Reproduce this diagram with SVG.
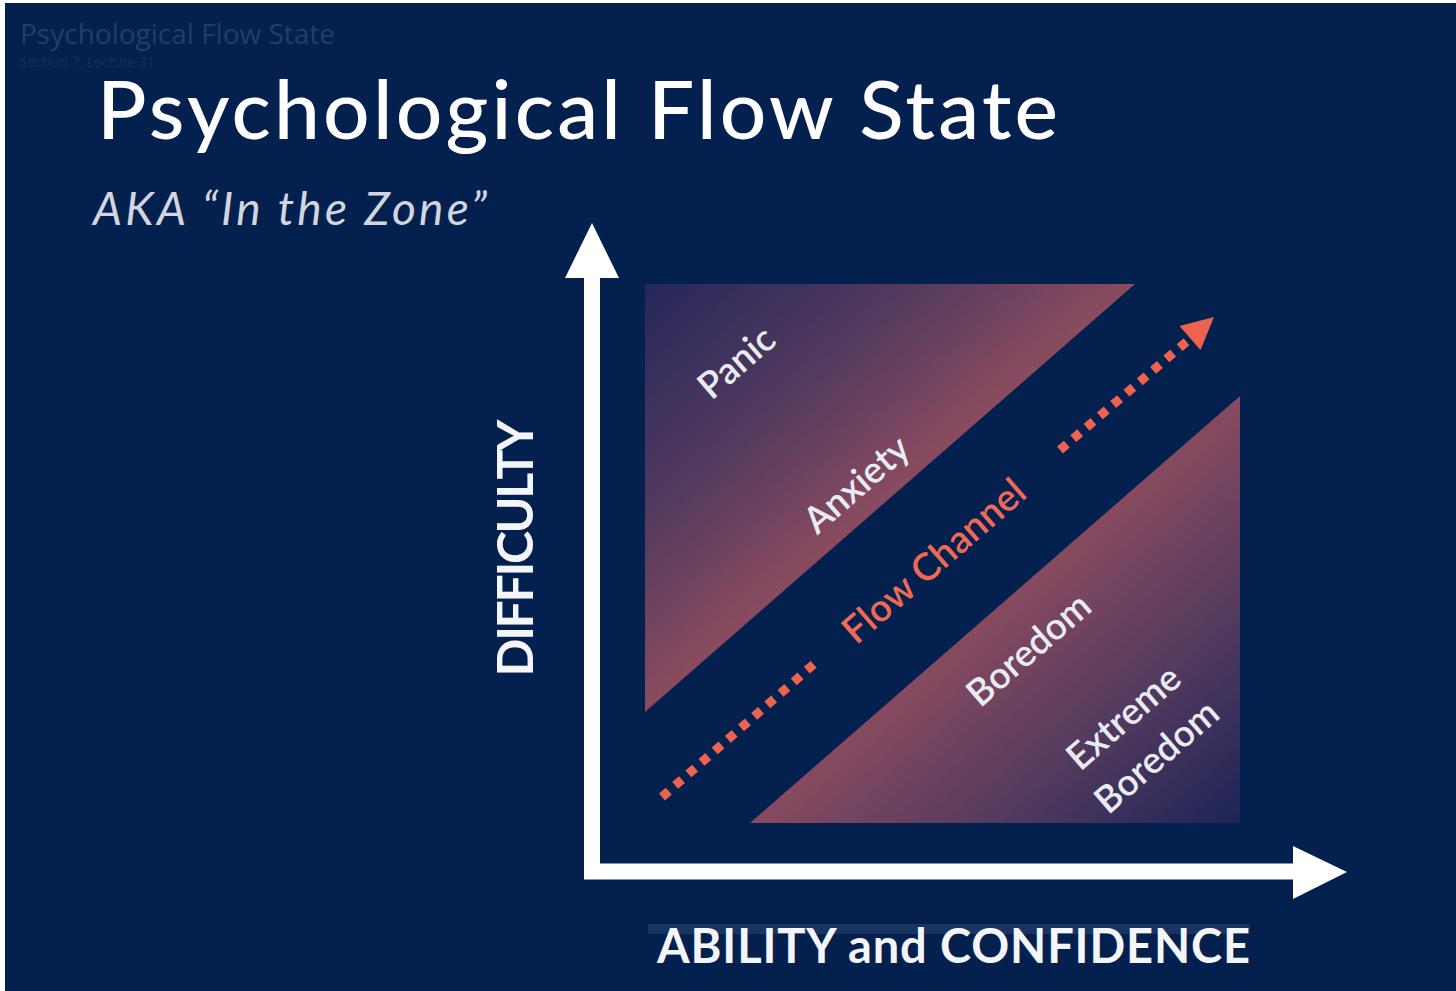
<svg xmlns="http://www.w3.org/2000/svg" width="1456" height="991" viewBox="0 0 1456 991">
  <defs>
    <style>
      .lbl { font-family: Lato, "Open Sans", "DejaVu Sans", sans-serif; fill: #e9ebf2; font-size: 37px; font-weight: 600; text-anchor: middle; }
      .flow { font-family: Lato, "Open Sans", "DejaVu Sans", sans-serif; fill: #ee6a55; font-size: 38px; font-weight: 600; text-anchor: middle; }
      .axis { font-family: Lato, "Open Sans", "DejaVu Sans", sans-serif; fill: #f4f5f8; font-weight: 700; }
      .dots { fill: none; stroke: #ec6450; stroke-width: 9; stroke-dasharray: 9 8.5; }
    </style>
    <linearGradient id="upperFill" gradientUnits="userSpaceOnUse" x1="645" y1="284" x2="857" y2="526">
      <stop offset="0" stop-color="#25275a"/>
      <stop offset="0.55" stop-color="#533a5f"/>
      <stop offset="1" stop-color="#8a4b5f"/>
    </linearGradient>
    <linearGradient id="lowerFill" gradientUnits="userSpaceOnUse" x1="1028" y1="580" x2="1240" y2="823">
      <stop offset="0" stop-color="#874a5f"/>
      <stop offset="0.5" stop-color="#533a5e"/>
      <stop offset="1" stop-color="#1d2457"/>
    </linearGradient>
  </defs>

  <!-- frame and background -->
  <rect x="0" y="0" width="1456" height="991" fill="#ffffff"/>
  <rect x="5" y="3" width="1451" height="988" fill="#03204f"/>

  <!-- faint header overlay -->
  <g id="header-overlay" font-family="'Open Sans', Lato, sans-serif">
    <text x="20" y="44" font-size="28" fill="#243c68">Psychological Flow State</text>
    <text x="20" y="67" font-size="14" fill="#15305e">Section 7, Lecture 31</text>
  </g>

  <!-- title block -->
  <g id="title">
    <text x="97" y="139" font-family="Lato, 'Open Sans', sans-serif" font-size="82" font-weight="500" fill="#ffffff" textLength="961" lengthAdjust="spacing">Psychological Flow State</text>
    <text x="93" y="225" font-family="Lato, 'Open Sans', sans-serif" font-size="46" font-style="italic" fill="#d3d6df" textLength="394" lengthAdjust="spacing">AKA “In the Zone”</text>
  </g>

  <!-- zones -->
  <g id="zone-upper">
    <polygon points="645,284 1135,284 645,712" fill="url(#upperFill)"/>
    <text class="lbl" transform="translate(737,363) rotate(-41)" y="12">Panic</text>
    <text class="lbl" transform="translate(857,485) rotate(-41)" y="12">Anxiety</text>
  </g>
  <g id="zone-lower">
    <polygon points="1240,396 1240,823 750,823" fill="url(#lowerFill)"/>
    <text class="lbl" transform="translate(1029,650) rotate(-41)" y="12">Boredom</text>
    <text class="lbl" transform="translate(1124,718) rotate(-41)" y="12">Extreme</text>
    <text class="lbl" transform="translate(1157,757) rotate(-41)" y="12">Boredom</text>
  </g>
  <g id="flow-channel">
    <text class="flow" transform="translate(934,561) rotate(-41)" y="13">Flow Channel</text>
  </g>

  <!-- connectors: axes and the flow direction -->
  <g id="connectors">
    <polyline points="592,278 592,871.5 1294,871.5" fill="none" stroke="#ffffff" stroke-width="16"/>
    <polygon points="592,223 565,278 619,278" fill="#ffffff"/>
    <polygon points="1347,872 1293,846 1293,899" fill="#ffffff"/>
    <line class="dots" x1="662" y1="797" x2="814" y2="664"/>
    <line class="dots" x1="1060" y1="450" x2="1192" y2="337"/>
    <polygon points="1214,317 1179.5,326 1200.5,350" fill="#ec6450"/>
  </g>

  <!-- axis labels -->
  <g id="axis-labels">
    <text class="axis" transform="translate(533,548) rotate(-90)" font-size="50" text-anchor="middle" textLength="257" lengthAdjust="spacing">DIFFICULTY</text>
    <rect x="648" y="924" width="602" height="10" fill="#2a4270" opacity="0.6"/>
    <text class="axis" x="657" y="963" font-size="47" textLength="593" lengthAdjust="spacing">ABILITY and CONFIDENCE</text>
  </g>
</svg>
